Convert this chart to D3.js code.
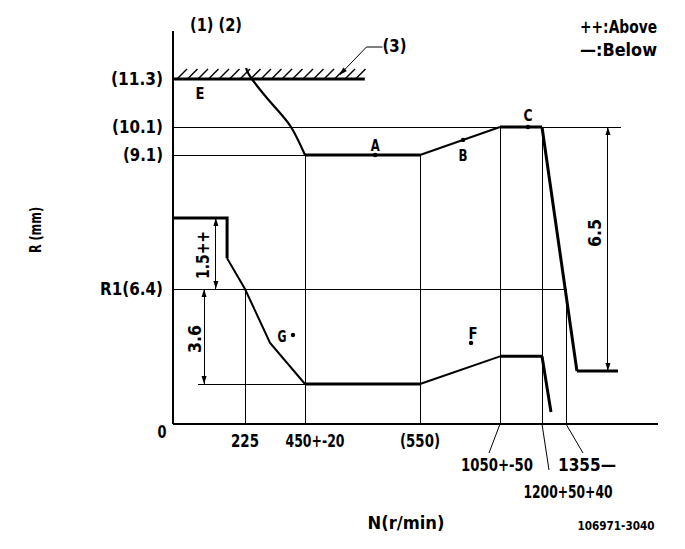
<!DOCTYPE html>
<html><head><meta charset="utf-8">
<script src="https://cdn.jsdelivr.net/npm/d3@7"></script>
<style>body{margin:0;background:#fff}</style>
</head><body><svg id="c" width="685" height="549"></svg>
<script>
// ---- schematic axis break values (the drawing is not to scale) ----
const nBreaks = [0, 225, 450, 550, 1050, 1200, 1355, 1650, 1800];
const rBreaks = [0, 2.8, 3.6, 6.4, 7.9, 9.1, 10.1, 11.3, 12.5];

// ---- tick labels ----
const rTickLabels = [
  {v: 11.3, t: "(11.3)"}, {v: 10.1, t: "(10.1)"}, {v: 9.1, t: "(9.1)"}, {v: 6.4, t: "R1(6.4)"}
];
const nTickLabels = [
  {v: 225, t: "225"}, {v: 450, t: "450+-20"}, {v: 550, t: "(550)"}
];
const nLeaderLabels = [
  {v: 1050, t: "1050+-50"}, {v: 1200, t: "1200+50+40"}, {v: 1355, t: "1355\u2014"}
];

// ---- full-load (upper) curve, [N, R] ----
const upperCurve = [[229, 11.575], [251, 11.3], [330, 10.65], [397.5, 10.1], [450, 9.1]];
const upperFlatA = [[450, 9.1], [550, 9.1]];
const upperRise  = [[550, 9.1], [1050, 10.1]];
const upperFlatC = [[1050, 10.1], [1200, 10.1]];
const upperDrop  = [[1200, 10.1], [1417, 3.6]];
const upperTail  = [[1417, 3.6], [1650, 3.6]];

// ---- idle / lower curve, [N, R] ----
const lowerStart = [[0, 7.9], [169, 7.9], [169, 7.05]];
const lowerSlope = [[169, 7.05], [225, 6.4], [319, 4.56], [450, 2.8]];
const lowerFlat  = [[450, 2.8], [550, 2.8]];
const lowerRise  = [[550, 2.8], [1050, 4.1]];
const lowerFlat2 = [[1050, 4.1], [1200, 4.1]];
const lowerDrop  = [[1200, 4.1], [1258, 0.84]];

// ---- stopper line (3) ----
const stopLine = [[0, 11.3], [502, 11.3]];

// ---- measuring points ----
const points = [
  {id: "A", n: 511, r: 9.1, dot: true},
  {id: "B", n: 819, r: 9.64, dot: true},
  {id: "C", n: 1150, r: 10.1, dot: true},
  {id: "E", n: 84, r: 11.3, dot: false},
  {id: "F", n: 869, r: 4.56, dot: true},
  {id: "G", n: 405, r: 4.83, dot: true}
];

// ---- dimensions ----
const dims = [
  {n: 134, r0: 6.4, r1: 7.9, t: "1.5++"},
  {n: 97, r0: 2.8, r1: 6.4, t: "3.6"},
  {n: 1593, r0: 3.6, r1: 10.1, t: "6.5"}
];

// ---- reference lines [from, to] ----
const hLines = [
  {r: 10.1, n0: 0, n1: 1660}, {r: 9.1, n0: 0, n1: 450},
  {r: 6.4, n0: 0, n1: 1355}, {r: 2.8, n0: 78, n1: 450}
];
const vLines = [
  {n: 225, r: 6.4}, {n: 450, r: 9.1}, {n: 550, r: 9.1},
  {n: 1050, r: 10.1}, {n: 1200, r: 10.1}, {n: 1355, r: 6.4}
];

// =================== drawing ===================
const svg = d3.select("#c");
const x = d3.scaleLinear().domain(nBreaks).range([173, 245, 305, 420, 500, 542, 566, 618, 658]);
const y = d3.scaleLinear().domain(rBreaks).range([424, 384, 371, 289, 218, 155, 127, 79, 31]);
const FONT = "'DejaVu Sans Condensed','DejaVu Sans',sans-serif";

const line = d3.line().x(d => x(d[0])).y(d => y(d[1]));
function path(data, w, curve) {
  svg.append("path").attr("d", line.curve(curve || d3.curveLinear)(data))
    .attr("fill", "none").attr("stroke", "#000").attr("stroke-width", w)
    .attr("stroke-linejoin", "miter");
}
function seg(x1, y1, x2, y2, w, crisp) {
  const l = svg.append("line").attr("x1", x1).attr("y1", y1).attr("x2", x2).attr("y2", y2)
    .attr("stroke", "#000").attr("stroke-width", w || 1);
  if (crisp) l.attr("shape-rendering", "crispEdges");
}
function txt(s, cx, by, opts) {
  opts = opts || {};
  const t = svg.append("text").text(s).attr("x", cx).attr("y", by)
    .attr("font-family", FONT).attr("font-weight", "bold")
    .attr("font-size", opts.size || 17).attr("text-anchor", opts.anchor || "middle")
    .attr("fill", "#000");
  if (opts.len) t.attr("textLength", opts.len).attr("lengthAdjust", "spacingAndGlyphs");
  return t;
}
function rtxt(s, cx, cy, len, size) {
  const t = svg.append("text").text(s)
    .attr("transform", `translate(${cx},${cy}) rotate(-90)`)
    .attr("font-family", FONT).attr("font-weight", "bold")
    .attr("font-size", size || 17).attr("text-anchor", "middle")
    .attr("dominant-baseline", "central");
  if (len) t.attr("textLength", len).attr("lengthAdjust", "spacingAndGlyphs");
}
function arrow(px, py, ang) {
  const L = 8, W = 2.5;
  const bx = px - L * Math.cos(ang), by = py - L * Math.sin(ang);
  const ox = -Math.sin(ang) * W, oy = Math.cos(ang) * W;
  svg.append("path").attr("d", `M${px},${py}L${bx + ox},${by + oy}L${bx - ox},${by - oy}Z`).attr("fill", "#000");
}

// axes
seg(x(0), y(0), x(0), y(12.5), 1.2, true);
seg(x(0), y(0), x(1800), y(0), 1.2, true);

// reference lines
hLines.forEach(d => seg(x(d.n0), y(d.r), x(d.n1), y(d.r), 1, true));
vLines.forEach(d => seg(x(d.n), y(d.r), x(d.n), y(0), 1, true));

// stopper line with hatch
path(stopLine, 3);
const ys = y(11.3);
d3.range(18).forEach(k => {
  const bx = x(0) + 4 + k * 10.5;
  seg(bx, ys, bx + 10, ys - 10, 1.4);
});
// leader of (3)
{
  const tx = x(480), ty = y(11.4);
  svg.append("path").attr("d", `M${tx},${ty}L${tx + 27},${ty - 28}L${tx + 43},${ty - 28}`)
    .attr("fill", "none").attr("stroke", "#000").attr("stroke-width", 1);
  arrow(tx, ty, Math.atan2(28, -27));
  txt("(3)", tx + 55, ty - 23, {len: 24});
}

// upper curve
path(upperCurve, 2.2, d3.curveNatural);
path(upperFlatA, 3);
path(upperRise, 2);
path(upperFlatC, 3);
path(upperDrop, 3);
path(upperTail, 3);

// lower curve
path(lowerStart, 3);
path(lowerSlope, 2);
path(lowerFlat, 3);
path(lowerRise, 2);
path(lowerFlat2, 3);
path(lowerDrop, 3);

// points
points.forEach(p => {
  if (p.dot) svg.append("circle").attr("cx", x(p.n)).attr("cy", y(p.r)).attr("r", 2.2).attr("fill", "#000");
});
const lab = {A: [0, -4], B: [0, 21], C: [0, -6], E: [0, 20], F: [2, -4], G: [-11, 7]};
points.forEach(p => txt(p.id, x(p.n) + lab[p.id][0], y(p.r) + lab[p.id][1], {size: 16, len: 9}));

// dimensions
dims.forEach(d => {
  const px = x(d.n), ya = y(d.r0), yb = y(d.r1);
  seg(px, ya, px, yb, 1, true);
  arrow(px, yb, -Math.PI / 2);
  arrow(px, ya, Math.PI / 2);
});
rtxt("1.5++", x(dims[0].n) - 13, 255, 48);
rtxt("3.6", x(dims[1].n) - 9, 339, 28);
rtxt("6.5", x(dims[2].n) - 13, 233, 28);

// R tick labels
const rLen = {"(11.3)": 52, "(10.1)": 51, "(9.1)": 40, "R1(6.4)": 63};
rTickLabels.forEach(d => txt(d.t, 163, y(d.v) + 6, {anchor: "end", len: rLen[d.t]}));
txt("0", 162, 438, {len: 9});

// N tick labels
const nLen = {"225": 28, "450+-20": 59, "(550)": 40};
const nOff = {"225": 0, "450+-20": 10, "(550)": 0};
nTickLabels.forEach(d => txt(d.t, x(d.v) + nOff[d.t], 447, {len: nLen[d.t]}));

// leader labels
const ll = {1050: [-11, 29, -3, 47, 72], 1200: [7, 46, 26, 74, 89], 1355: [17, 29, 21, 47, 58]};
nLeaderLabels.forEach(d => {
  const p = ll[d.v], x0 = x(d.v), y0 = y(0);
  seg(x0, y0, x0 + p[0], y0 + p[1], 1);
  txt(d.t, x0 + p[2], y0 + p[3], {len: p[4]});
});

// titles
txt("(1) (2)", 216, 31, {len: 52});
txt("++:Above", 580, 33, {anchor: "start", len: 77});
txt("\u2014:Below", 580, 56, {anchor: "start", len: 77});
txt("N(r/min)", 406, 529, {len: 77});
txt("106971-3040", 616, 530, {size: 12, len: 77});
rtxt("R (mm)", 36, 230, 46, 15);
</script></body></html>
